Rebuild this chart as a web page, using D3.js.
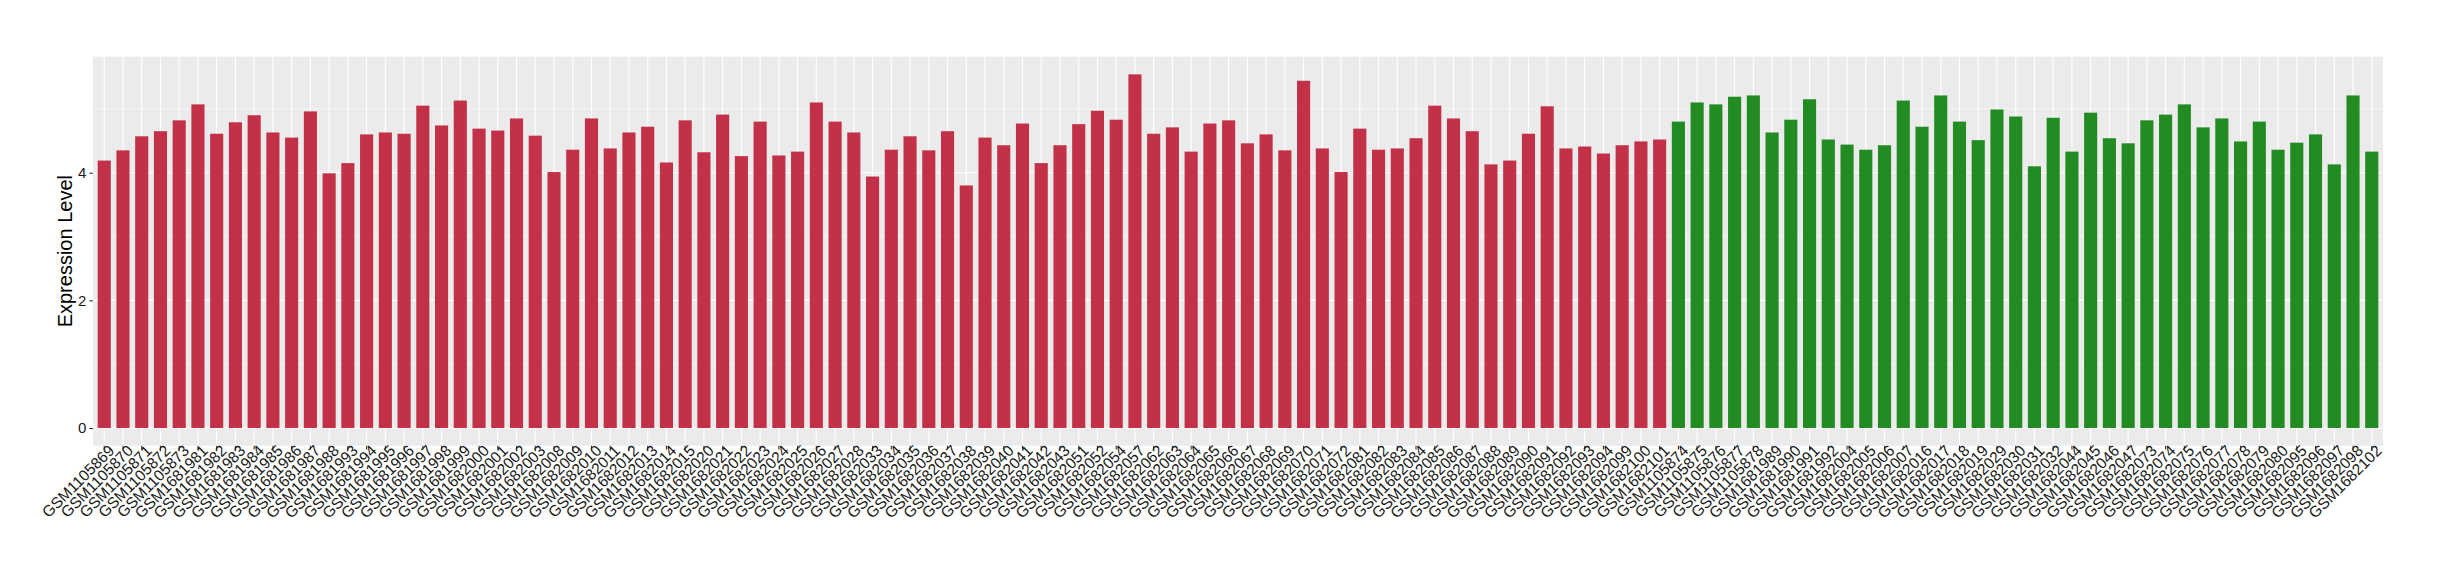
<!DOCTYPE html>
<html>
<head>
<meta charset="utf-8">
<script src="https://cdn.jsdelivr.net/npm/d3@7"></script>
<style>
  body { margin: 0; background: #fff; }
  svg text { font-family: "Liberation Sans", Arial, Helvetica, sans-serif; }
</style>
</head>
<body>
<svg id="chart" width="2440" height="580"></svg>
<script>
// first group (red bars)
const samplesRed = [
  "GSM1105869", "GSM1105870", "GSM1105871", "GSM1105872", "GSM1105873",
  "GSM1681981", "GSM1681982", "GSM1681983", "GSM1681984", "GSM1681985",
  "GSM1681986", "GSM1681987", "GSM1681988", "GSM1681993", "GSM1681994",
  "GSM1681995", "GSM1681996", "GSM1681997", "GSM1681998", "GSM1681999",
  "GSM1682000", "GSM1682001", "GSM1682002", "GSM1682003", "GSM1682008",
  "GSM1682009", "GSM1682010", "GSM1682011", "GSM1682012", "GSM1682013",
  "GSM1682014", "GSM1682015", "GSM1682020", "GSM1682021", "GSM1682022",
  "GSM1682023", "GSM1682024", "GSM1682025", "GSM1682026", "GSM1682027",
  "GSM1682028", "GSM1682033", "GSM1682034", "GSM1682035", "GSM1682036",
  "GSM1682037", "GSM1682038", "GSM1682039", "GSM1682040", "GSM1682041",
  "GSM1682042", "GSM1682043", "GSM1682051", "GSM1682052", "GSM1682054",
  "GSM1682057", "GSM1682062", "GSM1682063", "GSM1682064", "GSM1682065",
  "GSM1682066", "GSM1682067", "GSM1682068", "GSM1682069", "GSM1682070",
  "GSM1682071", "GSM1682072", "GSM1682081", "GSM1682082", "GSM1682083",
  "GSM1682084", "GSM1682085", "GSM1682086", "GSM1682087", "GSM1682088",
  "GSM1682089", "GSM1682090", "GSM1682091", "GSM1682092", "GSM1682093",
  "GSM1682094", "GSM1682099", "GSM1682100", "GSM1682101"
];
const valuesRed = [
  4.19, 4.35, 4.57, 4.65, 4.82, 5.07, 4.61, 4.79, 4.90, 4.63,
  4.55, 4.96, 3.99, 4.15, 4.60, 4.63, 4.61, 5.05, 4.74, 5.13,
  4.69, 4.66, 4.85, 4.58, 4.01, 4.36, 4.85, 4.38, 4.63, 4.72,
  4.16, 4.82, 4.32, 4.91, 4.26, 4.80, 4.27, 4.33, 5.10, 4.80,
  4.63, 3.94, 4.36, 4.57, 4.35, 4.65, 3.80, 4.55, 4.43, 4.77,
  4.15, 4.43, 4.76, 4.97, 4.83, 5.54, 4.61, 4.71, 4.33, 4.77,
  4.82, 4.46, 4.60, 4.35, 5.44, 4.38, 4.01, 4.69, 4.36, 4.38,
  4.54, 5.05, 4.85, 4.65, 4.13, 4.19, 4.61, 5.04, 4.38, 4.41,
  4.30, 4.43, 4.49, 4.52
];

// second group (green bars)
const samplesGreen = [
  "GSM1105874", "GSM1105875", "GSM1105876", "GSM1105877", "GSM1105878",
  "GSM1681989", "GSM1681990", "GSM1681991", "GSM1681992", "GSM1682004",
  "GSM1682005", "GSM1682006", "GSM1682007", "GSM1682016", "GSM1682017",
  "GSM1682018", "GSM1682019", "GSM1682029", "GSM1682030", "GSM1682031",
  "GSM1682032", "GSM1682044", "GSM1682045", "GSM1682046", "GSM1682047",
  "GSM1682073", "GSM1682074", "GSM1682075", "GSM1682076", "GSM1682077",
  "GSM1682078", "GSM1682079", "GSM1682080", "GSM1682095", "GSM1682096",
  "GSM1682097", "GSM1682098", "GSM1682102"
];
const valuesGreen = [
  4.80, 5.10, 5.07, 5.19, 5.21, 4.63, 4.83, 5.15, 4.52, 4.44,
  4.36, 4.43, 5.13, 4.72, 5.21, 4.80, 4.51, 4.99, 4.88, 4.10,
  4.86, 4.33, 4.94, 4.54, 4.46, 4.82, 4.91, 5.07, 4.71, 4.85,
  4.49, 4.80, 4.36, 4.47, 4.60, 4.13, 5.21, 4.33
];

const yTicks = [0, 2, 4];
const yMinor = [1, 3, 5];

const colors = { red: "#C33149", green: "#228B22" };

const data = samplesRed.map((s, i) => ({ sample: s, value: valuesRed[i], group: "red" }))
  .concat(samplesGreen.map((s, i) => ({ sample: s, value: valuesGreen[i], group: "green" })));

const svg = d3.select("#chart");
const panel = { left: 93, right: 2383, top: 56.7, bottom: 445.7 };

const x = d3.scaleBand()
  .domain(data.map(d => d.sample))
  .range([panel.left, panel.right])
  .paddingInner(0.3)
  .paddingOuter(0.25);

// ggplot style 5% expansion
const maxV = d3.max(data, d => d.value);
const y = d3.scaleLinear()
  .domain([-maxV * 0.05, maxV * 1.05])
  .range([panel.bottom, panel.top]);

// panel background
svg.append("rect")
  .attr("x", panel.left).attr("y", panel.top)
  .attr("width", panel.right - panel.left)
  .attr("height", panel.bottom - panel.top)
  .attr("fill", "#EBEBEB");

// grid
svg.append("g").selectAll("line").data(yMinor).join("line")
  .attr("x1", panel.left).attr("x2", panel.right)
  .attr("y1", d => y(d)).attr("y2", d => y(d))
  .attr("stroke", "#fff").attr("stroke-width", 0.55);

svg.append("g").selectAll("line").data(yTicks).join("line")
  .attr("x1", panel.left).attr("x2", panel.right)
  .attr("y1", d => y(d)).attr("y2", d => y(d))
  .attr("stroke", "#fff").attr("stroke-width", 1.1);

svg.append("g").selectAll("line").data(data).join("line")
  .attr("x1", d => x(d.sample) + x.bandwidth() / 2)
  .attr("x2", d => x(d.sample) + x.bandwidth() / 2)
  .attr("y1", panel.top).attr("y2", panel.bottom)
  .attr("stroke", "#fff").attr("stroke-width", 1.1);

// bars
svg.append("g").selectAll("rect").data(data).join("rect")
  .attr("x", d => x(d.sample))
  .attr("width", x.bandwidth())
  .attr("y", d => y(d.value))
  .attr("height", d => y(0) - y(d.value))
  .attr("fill", d => colors[d.group]);

// y axis
const yAxis = svg.append("g")
  .attr("transform", `translate(${panel.left},0)`)
  .call(d3.axisLeft(y).tickValues(yTicks).tickSize(3.7).tickPadding(3).tickFormat(d3.format("d")));
yAxis.select(".domain").remove();
yAxis.selectAll(".tick line").attr("stroke", "#333").attr("stroke-width", 1.1);
yAxis.selectAll(".tick text").attr("fill", "#1A1A1A").style("font-size", "15px");

// x axis
const xAxis = svg.append("g")
  .attr("transform", `translate(0,${panel.bottom})`)
  .call(d3.axisBottom(x).tickSize(3.7).tickPadding(3));
xAxis.select(".domain").remove();
xAxis.selectAll(".tick line").attr("stroke", "#333").attr("stroke-width", 1.1);
xAxis.selectAll(".tick text")
  .attr("fill", "#1A1A1A")
  .style("font-size", "15.5px")
  .attr("text-anchor", "end")
  .attr("y", 0)
  .attr("dy", 0)
  .attr("transform", "translate(11,6) rotate(-45)");

// y title
svg.append("text")
  .attr("transform", `translate(72,${(panel.top + panel.bottom) / 2}) rotate(-90)`)
  .attr("text-anchor", "middle")
  .style("font-size", "20px")
  .attr("fill", "#000")
  .text("Expression Level");
</script>
</body>
</html>
